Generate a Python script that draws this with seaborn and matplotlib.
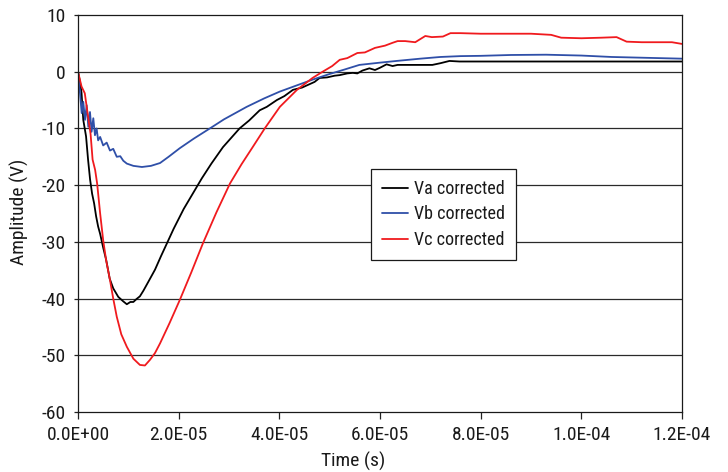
import numpy as np
import pandas as pd
import matplotlib
matplotlib.use("Agg")
import matplotlib.pyplot as plt
import seaborn as sns
from matplotlib import font_manager
from matplotlib.lines import Line2D

# ---- data (time in microseconds, amplitude in volts) ----
va_t_us = [0, 0.4, 0.7, 1.05, 1.6, 2.0, 2.4, 2.8, 3.2, 3.6, 4.0, 4.4, 5.0, 5.6, 6.3,
           7.0, 8.0, 9.0, 9.7, 10.4, 11.0, 11.6, 12.3, 13.0, 14.0, 15.3, 16.5, 17.7,
           19.0, 21.0, 23.0, 24.6, 26.5, 28.8, 32.1, 34.0, 36.1, 37.5, 39.5, 41.0,
           42.7, 44.5, 46.0, 47.0, 48.0, 49.5, 51.0, 52.0, 53.5, 54.6, 55.5, 56.5,
           57.9, 59.0, 60.0, 61.3, 62.5, 63.5, 66.0, 68.0, 70.4, 72.0, 73.8, 75.8,
           80.0, 90.0, 100.0, 110.0, 120.0]
va_v = [0, -1.8, -3.7, -8.5, -11.4, -15.5, -19.0, -21.5, -23.2, -25.5, -27.3, -28.6,
        -31.0, -33.2, -36.5, -38.2, -39.7, -40.5, -41.0, -40.6, -40.6, -40.1, -39.6,
        -38.6, -37.0, -34.9, -32.5, -30.2, -27.7, -24.2, -21.2, -18.8, -16.2, -13.3,
        -10.0, -8.6, -6.8, -6.2, -5.0, -4.3, -3.2, -2.8, -2.2, -1.8, -1.1, -1.0, -0.7,
        -0.6, -0.3, -0.2, -0.3, 0.2, 0.6, 0.3, 0.7, 1.3, 1.0, 1.2, 1.2, 1.2, 1.2, 1.5,
        1.9, 1.8, 1.8, 1.8, 1.8, 1.8, 1.8]

vb_t_us = [0, 0.2, 0.4, 0.73, 1.05, 1.39, 1.72, 2.05, 2.38, 2.7, 3.04, 3.37, 3.7,
           4.0, 4.4, 5.0, 5.7, 6.35, 7.0, 7.7, 8.4, 9.0, 9.7, 11.0, 12.7, 14.5, 16.3,
           18.0, 20.2, 23.0, 26.2, 29.0, 33.5, 37.0, 40.1, 43.5, 46.6, 50.0, 53.0,
           55.9, 60.0, 63.3, 68.0, 72.0, 76.0, 80.0, 86.0, 93.0, 100.0, 106.0, 113.0,
           120.0]
vb_v = [0, -2.0, -3.8, -7.3, -5.3, -8.5, -5.9, -9.7, -7.1, -10.6, -8.2, -11.2, -10.0,
        -12.1, -11.5, -13.0, -12.5, -13.9, -13.6, -15.0, -14.9, -15.7, -16.2, -16.6,
        -16.8, -16.6, -16.1, -15.0, -13.5, -11.8, -10.0, -8.4, -6.2, -4.7, -3.5, -2.4,
        -1.4, -0.4, 0.4, 1.2, 1.6, 1.9, 2.3, 2.6, 2.75, 2.8, 2.95, 3.0, 2.85, 2.6,
        2.45, 2.3]

vc_t_us = [0, 0.7, 1.35, 2.0, 2.5, 2.9, 3.4, 3.8, 4.4, 5.0, 5.6, 6.35, 7.0, 7.7, 8.6,
           9.7, 11.0, 12.3, 13.3, 14.3, 15.3, 16.3, 18.2, 20.2, 22.5, 24.8, 27.5,
           30.2, 32.5, 34.7, 37.1, 40.1, 43.5, 46.6, 48.6, 50.5, 52.0, 53.5, 55.5,
           57.0, 59.0, 61.0, 62.5, 63.5, 65.0, 67.0, 69.0, 70.3, 72.5, 74.0, 76.0,
           80.0, 90.0, 94.0, 96.0, 100.0, 104.0, 107.0, 109.0, 112.0, 118.0, 120.0]
vc_v = [0, -2.6, -3.8, -7.9, -11.0, -15.5, -17.3, -19.7, -25.0, -29.7, -33.3, -36.7,
        -40.0, -43.2, -46.3, -48.5, -50.6, -51.7, -51.8, -50.8, -49.6, -47.9, -44.3,
        -40.3, -35.4, -30.3, -24.8, -19.7, -16.3, -13.3, -10.0, -6.2, -3.2, -1.1, 0.0,
        1.0, 2.1, 2.4, 3.3, 3.4, 4.2, 4.6, 5.1, 5.4, 5.4, 5.2, 6.3, 6.1, 6.2, 6.8,
        6.8, 6.7, 6.7, 6.5, 6.0, 5.9, 6.0, 6.1, 5.3, 5.2, 5.2, 4.9]

labels = ["Va corrected", "Vb corrected", "Vc corrected"]
colors = ["#000000", "#2f4fa8", "#f01a1e"]
y_ticks = [10, 0, -10, -20, -30, -40, -50, -60]
x_ticks = [0.0, 2e-5, 4e-5, 6e-5, 8e-5, 1e-4, 1.2e-4]
x_tick_labels = ["0.0E+00", "2.0E-05", "4.0E-05", "6.0E-05", "8.0E-05", "1.0E-04", "1.2E-04"]

frames = []
for lab, tt, vv in zip(labels, [va_t_us, vb_t_us, vc_t_us], [va_v, vb_v, vc_v]):
    frames.append(pd.DataFrame({"t": np.array(tt) * 1e-6, "v": vv, "series": lab}))
df = pd.concat(frames, ignore_index=True)

# ---- style ----
sns.set_theme(style="white")
names = {f.name for f in font_manager.fontManager.ttflist}
fam = "Liberation Sans"
for cand in ["Roboto Condensed", "Nimbus Sans Narrow", "Archivo Narrow",
             "PT Sans Narrow", "Liberation Sans Narrow"]:
    if cand in names:
        fam = cand
        break
plt.rcParams["font.family"] = [fam, "DejaVu Sans"]
fs = 14 if fam != "Liberation Sans" else 12
lfs = fs - 1
txt = "#1a1a1a"

fig = plt.figure(figsize=(7.28, 4.72), dpi=100)
ax = fig.add_axes([78 / 728, 60 / 472, 604 / 728, 397 / 472])

for y in y_ticks[1:-1]:
    ax.axhline(y, color="#2a2a2a", lw=0.9, zorder=0)

sns.lineplot(data=df, x="t", y="v", hue="series", palette=dict(zip(labels, colors)),
             sort=False, estimator=None, units="series", lw=1.3, ax=ax, legend=False)

ax.set_xlim(0, 1.2e-4)
ax.set_ylim(-60, 10)
ax.set_xticks(x_ticks)
ax.set_xticklabels(x_tick_labels)
ax.set_yticks(y_ticks)
ax.set_yticklabels([str(v) for v in y_ticks])
ax.tick_params(axis="x", direction="out", length=5, width=0.9, color="#222222",
               pad=5, labelsize=fs, labelcolor=txt, bottom=True)
ax.tick_params(axis="y", direction="out", length=3, width=0.9, color="#222222",
               pad=6, labelsize=fs, labelcolor=txt, left=True)
for side in ["left", "bottom", "right", "top"]:
    ax.spines[side].set_visible(True)
    ax.spines[side].set_color("#1a1a1a")
    ax.spines[side].set_linewidth(0.9)
ax.set_xlabel("")
ax.set_ylabel("")

fig.text(353 / 728, 1 - 461 / 472, "Time (s)", ha="center", va="center",
         fontsize=fs, color=txt)
fig.text(19 / 728, 1 - 212 / 472, "Amplitude (V)", ha="center", va="center",
         rotation=90, fontsize=fs, color=txt)

handles = [Line2D([], [], color=c, lw=1.3) for c in colors]
leg = ax.legend(handles, labels, loc="upper left",
                bbox_to_anchor=((371 - 78) / 604, (412 - 169) / 397),
                borderaxespad=0, frameon=True, fancybox=False, fontsize=lfs,
                handlelength=1.45, handletextpad=0.35, labelspacing=0.42,
                borderpad=0.6)
leg.get_frame().set_edgecolor("#1a1a1a")
leg.get_frame().set_linewidth(0.9)
leg.get_frame().set_facecolor("white")
leg.get_frame().set_alpha(1)
for t in leg.get_texts():
    t.set_color(txt)

fig.savefig("out.png", dpi=100)
